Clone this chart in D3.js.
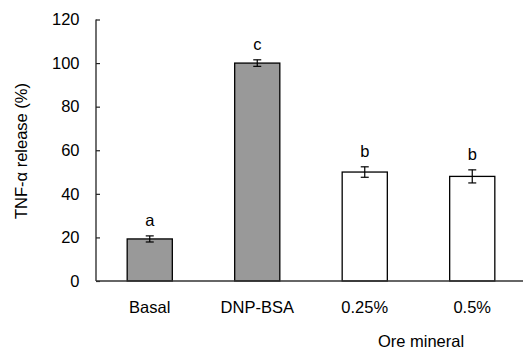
<!DOCTYPE html>
<html>
<head>
<script src="https://cdn.jsdelivr.net/npm/d3@7"></script>
<style>
  body { margin: 0; background: #fff; }
  text { font-family: "Liberation Sans", Arial, sans-serif; fill: #000; }
</style>
</head>
<body>
<div id="chart"></div>
<script>
const categories = ["Basal", "DNP-BSA", "0.25%", "0.5%"];
const values = [19.3, 100, 50, 48];
const errors = [1.4, 1.5, 2.4, 3.0];
const letters = ["a", "c", "b", "b"];
const fills = ["#999999", "#999999", "#ffffff", "#ffffff"];
const yTicks = [0, 20, 40, 60, 80, 100, 120];

const W = 523, H = 350;
const fs = "16.5px";
const svg = d3.select("#chart").append("svg")
    .attr("width", W).attr("height", H);

const x = d3.scaleBand()
    .domain(categories)
    .range([96, 526])
    .paddingInner(0.58)
    .paddingOuter(0.29);

const y = d3.scaleLinear()
    .domain([0, 120])
    .range([281, 19.5]);

// bars
svg.selectAll("rect.bar")
    .data(categories)
    .enter().append("rect")
    .attr("x", d => x(d))
    .attr("y", (d, i) => y(values[i]))
    .attr("width", x.bandwidth())
    .attr("height", (d, i) => y(0) - y(values[i]))
    .attr("fill", (d, i) => fills[i])
    .attr("stroke", "#000")
    .attr("stroke-width", 1.3);

// error bars + significance letters
const eb = svg.selectAll("g.err").data(categories).enter().append("g");
eb.each(function(d, i) {
    const g = d3.select(this);
    const cx = x(d) + x.bandwidth() / 2;
    const lo = y(values[i] - errors[i]), hi = y(values[i] + errors[i]);
    g.append("line").attr("x1", cx).attr("x2", cx).attr("y1", lo).attr("y2", hi);
    g.append("line").attr("x1", cx - 4).attr("x2", cx + 4).attr("y1", lo).attr("y2", lo);
    g.append("line").attr("x1", cx - 4).attr("x2", cx + 4).attr("y1", hi).attr("y2", hi);
    g.selectAll("line").attr("stroke", "#000").attr("stroke-width", 1.2);
    g.append("text")
        .attr("x", cx)
        .attr("y", hi - 10)
        .attr("text-anchor", "middle")
        .style("font-size", fs)
        .text(letters[i]);
});

// y axis
const yAxis = svg.append("g")
    .attr("transform", "translate(96,0)")
    .call(d3.axisRight(y).tickValues(yTicks).tickSize(4).tickFormat(d3.format("d")));
yAxis.select(".domain").attr("stroke", "#222").attr("stroke-width", 1.3)
    .attr("d", `M0,${y(120)}V${y(0)}`);
yAxis.selectAll(".tick line").attr("stroke", "#222").attr("stroke-width", 1.2);
yAxis.selectAll(".tick text")
    .attr("x", -16.5)
    .attr("text-anchor", "end")
    .style("font-size", fs)
    .style("fill", "#000");

// x axis line
svg.append("line")
    .attr("x1", 96).attr("x2", W)
    .attr("y1", y(0)).attr("y2", y(0))
    .attr("stroke", "#333").attr("stroke-width", 1.5);

// x labels
svg.selectAll("text.xl")
    .data(categories)
    .enter().append("text")
    .attr("x", d => x(d) + x.bandwidth() / 2)
    .attr("y", 313)
    .attr("text-anchor", "middle")
    .style("font-size", fs)
    .text(d => d);

svg.append("text")
    .attr("x", 421)
    .attr("y", 347)
    .attr("text-anchor", "middle")
    .style("font-size", fs)
    .text("Ore mineral");

svg.append("text")
    .attr("transform", "translate(27,151) rotate(-90)")
    .attr("text-anchor", "middle")
    .style("font-size", fs)
    .text("TNF-\u03b1 release (%)");
</script>
</body>
</html>
